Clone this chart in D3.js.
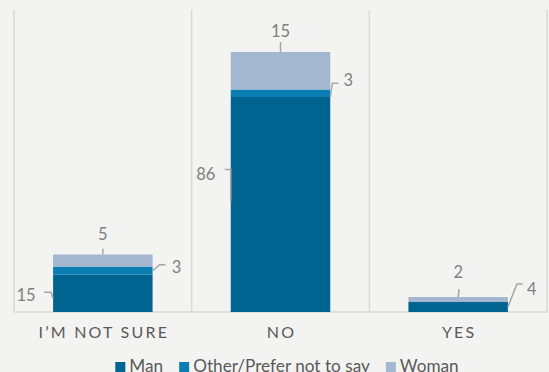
<!DOCTYPE html>
<html><head><meta charset="utf-8">
<script src="https://cdn.jsdelivr.net/npm/d3@7/dist/d3.min.js"></script>
<style>
html,body{margin:0;padding:0;background:#f3f3f1;}
svg{display:block;}
</style></head>
<body><svg id="chart" width="549" height="372"></svg>
<script>
const categories = ["I\u2019M NOT SURE", "NO", "YES"];
const seriesNames = ["Man", "Other/Prefer not to say", "Woman"];
const manValues = [15, 86, 4];
const otherValues = [3, 3, 0];
const womanValues = [5, 15, 2];
const seriesColors = ["#006490", "#0a7db3", "#a3b8d0"];

// label leader layout per [category][series]
const labelLayout = [
  [ {anchor:"left",  tx:-27, ty:2,  pts:[[0,5],[-2,-1],[-9,-1]]},
    {anchor:"right", tx:24,  ty:-4, pts:[[0,0],[7,-6],[13,-6]]},
    {anchor:"top",   tx:0,   ty:-20,pts:[[0,0],[0,-6]]} ],
  [ {anchor:"left",  tx:-25, ty:-30,pts:[[0,-3],[0,-35],[-6,-35]]},
    {anchor:"right", tx:18,  ty:-13,pts:[[0,4],[2,-10],[8,-10]]},
    {anchor:"top",   tx:0,   ty:-21,pts:[[0,0],[0,-10]]} ],
  [ {anchor:"right", tx:24,  ty:-18,pts:[[0,0],[9,-23],[15,-23]]},
    null,
    {anchor:"top",   tx:0,   ty:-25,pts:[[0,0],[1,-8]]} ]
];

const svg = d3.select("#chart");
const plotLeft = 14, plotRight = 547, plotBase = 312, plotTop = 12;

const x = d3.scaleBand().domain(categories).range([plotLeft, plotRight]).paddingInner(0.44).paddingOuter(0.22);
const y = d3.scaleLinear().domain([0, 120]).range([plotBase, plotTop]);

const step = x.step();
const gx = d3.range(categories.length + 1).map(i => plotLeft + i * step);
svg.append("g").selectAll("line").data(gx).join("line")
  .attr("x1", d => d).attr("x2", d => d).attr("y1", 10).attr("y2", plotBase)
  .attr("stroke", "#d9d9d9").attr("stroke-width", 1.5);
svg.append("line").attr("x1", plotLeft).attr("x2", plotRight).attr("y1", plotBase).attr("y2", plotBase)
  .attr("stroke", "#d9d9d9").attr("stroke-width", 1.5);

const table = categories.map((c, i) => ({cat: c, s0: manValues[i], s1: otherValues[i], s2: womanValues[i]}));
const stacked = d3.stack().keys(["s0", "s1", "s2"])(table);

stacked.forEach((layer, si) => {
  svg.append("g").selectAll("rect").data(layer.filter(d => d[1] - d[0] > 0)).join("rect")
    .attr("x", d => x(d.data.cat))
    .attr("width", x.bandwidth())
    .attr("y", d => y(d[1]))
    .attr("height", d => y(d[0]) - y(d[1]))
    .attr("fill", seriesColors[si]);
});

const lblG = svg.append("g").attr("font-family", "Lato, 'Open Sans', sans-serif").attr("font-size", 16.5).attr("fill", "#7f7f7f");
categories.forEach((c, ci) => {
  stacked.forEach((layer, si) => {
    const d = layer[ci];
    const v = d[1] - d[0];
    const L = labelLayout[ci][si];
    if (!L || v <= 0) return;
    const mid = (y(d[0]) + y(d[1])) / 2;
    let ax, ay;
    if (L.anchor === "left") { ax = x(c); ay = mid; }
    else if (L.anchor === "right") { ax = x(c) + x.bandwidth(); ay = mid; }
    else { ax = x(c) + x.bandwidth() / 2; ay = y(d[1]); }
    const line = d3.line()(L.pts.map(p => [ax + p[0], ay + p[1]]));
    lblG.append("path").attr("d", line).attr("fill", "none").attr("stroke", "#a6a6a6").attr("stroke-width", 1.5);
    lblG.append("text").attr("x", ax + L.tx).attr("y", ay + L.ty).attr("dy", "0.36em")
      .attr("text-anchor", "middle").text(v);
  });
});

svg.append("g").selectAll("text").data(categories).join("text")
  .attr("x", d => x(d) + x.bandwidth() / 2 + 1)
  .attr("y", 338)
  .attr("text-anchor", "middle")
  .attr("font-family", "Lato, 'Open Sans', sans-serif")
  .attr("font-size", 16)
  .attr("letter-spacing", "2.2px")
  .attr("fill", "#595959")
  .text(d => d);

const legG = svg.append("g").attr("font-family", "Lato, 'Open Sans', sans-serif").attr("font-size", 17.2).attr("fill", "#595959");
const items = [];
seriesNames.forEach((n, i) => {
  const g = legG.append("g");
  g.append("rect").attr("x", 0).attr("y", 362).attr("width", 10).attr("height", 10).attr("fill", seriesColors[i]);
  const t = g.append("text").attr("x", 14).attr("y", 372).text(n);
  items.push({g, w: 14 + t.node().getComputedTextLength()});
});
const gap = 16;
const totalW = d3.sum(items, d => d.w) + gap * (items.length - 1);
let cx = 287 - totalW / 2;
items.forEach(it => { it.g.attr("transform", `translate(${cx},0)`); cx += it.w + gap; });
</script></body></html>
